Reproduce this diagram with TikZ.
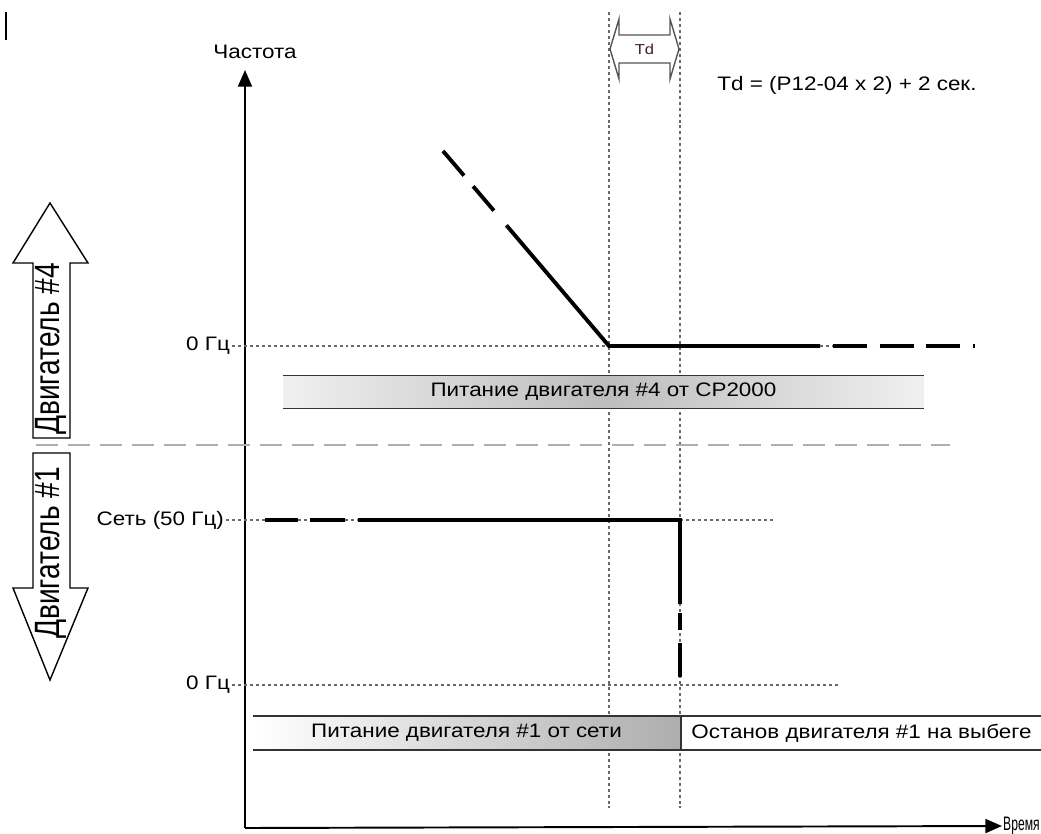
\documentclass[tikz,border=0pt]{standalone}
\usepackage{graphicx}
\usepackage{fontspec}
\setmainfont{Liberation Sans}[FakeStretch=1.15]
\newfontfamily\motorfont{Liberation Sans}
\usetikzlibrary{arrows.meta}
\definecolor{guidec}{RGB}{105,105,105}
\definecolor{sepc}{RGB}{175,175,175}
\definecolor{tdc}{RGB}{70,25,25}
\newcommand{\upright}[1]{\scalebox{1}[1.25]{#1}}

\begin{document}
\begin{tikzpicture}[x=0.02cm,y=-0.02cm,font=\fontsize{11.1}{13}\selectfont,
  guide/.style={guidec,line width=0.6pt,dash pattern=on 1.7pt off 1.7pt},
  curve/.style={line width=2.2pt},
  axis/.style={line width=1.1pt,-{Triangle[length=9.5pt,width=8pt]}},
  lbl/.style={anchor=east,inner sep=1pt},
  barline/.style={black!80,line width=0.8pt},
  barbox/.style={inner sep=0pt,minimum height=0.66cm},
  blockarrow/.style={draw=black,line width=0.8pt,fill=white,line join=miter},
  motor/.style={rotate=90,inner sep=0pt,font=\motorfont\fontsize{16}{18}\selectfont}]
  \useasboundingbox (0,0) rectangle (1041,834);
  % stray mark, top left
  \draw[line width=1.2pt] (6,12) -- (6,40);
  % time marks (dotted verticals)
  \coordinate (tA) at (609,12);\coordinate (tAb) at (609,808);
  \coordinate (tB) at (680,12);\coordinate (tBb) at (680,808);
  \draw[guide] (tA) -- (tAb);
  \draw[guide] (tB) -- (tBb);
  % Td block arrow between the two marks
  \draw[guidec!80!black,line width=0.8pt,fill=white]
    (610,49) -- (619,19) -- (619,35) -- (670,35) -- (670,19) -- (679,49)
    -- (670,79) -- (670,63) -- (619,63) -- (619,79) -- cycle;
  \node[font=\fontsize{8.2}{9}\selectfont,text=tdc] (td) at (644.5,49) {Td};
  \node (tdform) at (847,85) {Td = (P12-04 x 2) + 2 сек.};
  % axes
  \coordinate (O) at (245,828);
  \coordinate (ytip) at (245,70);
  \node (ylab) at (255,52) {Частота};
  \node[anchor=west,inner sep=0.5pt] (xlab) at (1002,826) {\scalebox{0.54}[1]{Время}};
  \draw[axis] (O) -- (ytip);
  \draw[axis] (O) -- (xlab.west);
  % level labels and their guides
  \node[lbl] (f4zero) at (232,346) {0 Гц};
  \node[lbl] (mains) at (226,520) {Сеть (50 Гц)};
  \node[lbl] (f1zero) at (232,685) {0 Гц};
  \coordinate (knee4) at (609,346);
  \coordinate (mainsend) at (775,520);
  \coordinate (f1end) at (838,685);
  \draw[guide] (f4zero.east) -- (knee4);
  \draw[guide] (mains.east) -- (mainsend);
  \draw[guide] (f1zero.east) -- (f1end);
  % motor split line
  \draw[sepc,line width=1.7pt,dash pattern=on 12.5pt off 5.7pt] (36,445) -- (950,445);
  % motor arrows on the left
  \draw[blockarrow] (50,203) -- (88,263) -- (70,263) -- (70,438) -- (33,438)
    -- (33,263) -- (13,263) -- cycle;
  \draw[blockarrow] (33,453) -- (70,453) -- (70,588) -- (88,588) -- (50,680)
    -- (13,588) -- (33,588) -- cycle;
  \node[motor] (m4) at (51,349) {\upright{Двигатель \#4}};
  \node[motor] (m1) at (51,553) {\upright{Двигатель \#1}};
  % motor 4 frequency
  \coordinate (m4top) at (443,151);
  \coordinate (m4solid) at (507,226);
  \coordinate (m4run) at (820,346);
  \coordinate (m4tail) at (833,346);
  \coordinate (m4end) at (975,346);
  \draw[curve,dash pattern=on 18.4pt off 8pt on 18.2pt off 11pt] (m4top) -- (m4solid);
  \draw[curve,line join=miter] (m4solid) -- (knee4) -- (m4run);
  \draw[guide] (m4run) -- (m4tail);
  \draw[curve,dash pattern=on 19.3pt off 7.3pt] (m4tail) -- (m4end);
  % motor 1 frequency
  \coordinate (m1start) at (265,520);
  \coordinate (m1solid) at (358,520);
  \coordinate (m1knee) at (680,520);
  \coordinate (m1drop) at (680,604);
  \coordinate (m1dash) at (680,613);
  \coordinate (m1end) at (680,677);
  \draw[curve,dash pattern=on 18.7pt off 6.8pt on 19.8pt off 7.4pt] (m1start) -- (m1solid);
  \draw[curve,line join=miter] (m1solid) -- (m1knee) -- (m1drop);
  \draw[curve,dash pattern=on 9.6pt off 7.4pt on 19.3pt] (m1dash) -- (m1end);
  % supply bars
  \node[barbox,minimum width=12.82cm,minimum height=0.64cm,
    left color=white!94!black,right color=white!94!black,middle color=black!26]
    (b4) at (603.5,392) {Питание двигателя \#4 от CP2000};
  \draw[barline] (b4.north west) -- (b4.north east);
  \draw[barline] (b4.south west) -- (b4.south east);
  \node[barbox,minimum width=8.54cm,left color=white,right color=black!32]
    (b1) at (466.5,733) {Питание двигателя \#1 от сети};
  \draw[barline] (b1.north west) -- (b1.north east) -- (b1.south east) -- (b1.south west);
  \node[barbox,minimum width=7.18cm,fill=white]
    (b2) at (861.5,733) {Останов двигателя \#1 на выбеге};
  \draw[barline] (b2.north east) -- (b2.north west) -- (b2.south west) -- (b2.south east);
\end{tikzpicture}
\end{document}
